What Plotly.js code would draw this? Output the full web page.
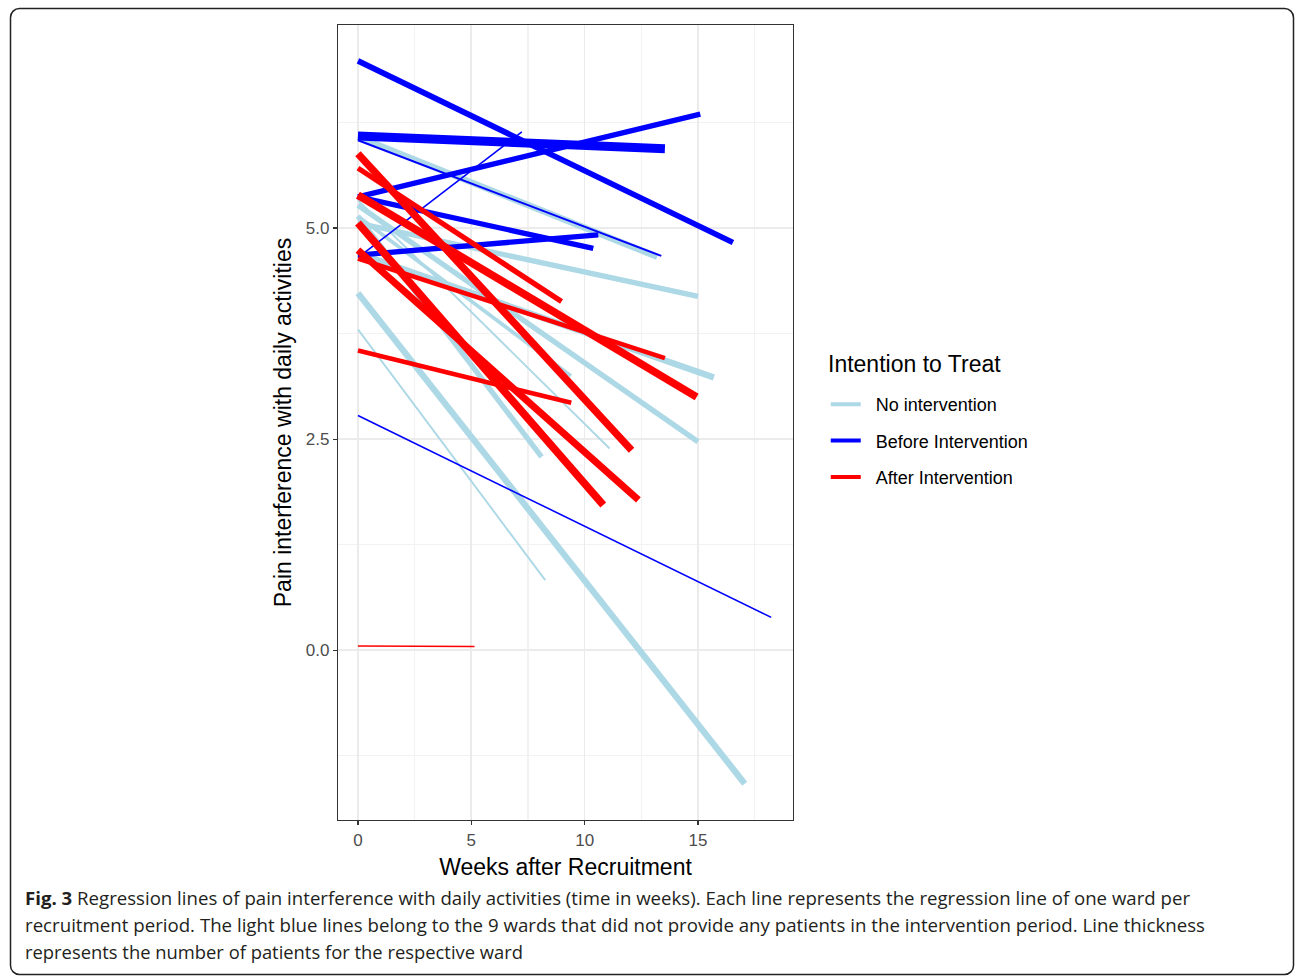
<!DOCTYPE html>
<html>
<head>
<meta charset="utf-8">
<script src="https://cdn.plot.ly/plotly-3.0.1.min.js"></script>
<style>
html,body{margin:0;padding:0;background:#fff;}
#wrap{position:relative;width:1296px;height:977px;}
#chart{position:absolute;left:0;top:0;width:1296px;height:977px;}
#overlay{position:absolute;left:0;top:0;pointer-events:none;}
</style>
</head>
<body>
<div id="wrap">
<div id="chart"></div>
<svg id="overlay" width="1296" height="977" xmlns="http://www.w3.org/2000/svg">
  <rect x="10.5" y="8.5" width="1283" height="966" rx="9" ry="9" fill="none" stroke="#222" stroke-width="1.5"/>
  <text x="25" y="905" font-family="Open Sans, sans-serif" font-size="18" fill="#231f20" textLength="1165" lengthAdjust="spacingAndGlyphs"><tspan font-weight="bold">Fig. 3</tspan> Regression lines of pain interference with daily activities (time in weeks). Each line represents the regression line of one ward per</text>
  <text x="25" y="932" font-family="Open Sans, sans-serif" font-size="18" fill="#231f20" textLength="1180" lengthAdjust="spacingAndGlyphs">recruitment period. The light blue lines belong to the 9 wards that did not provide any patients in the intervention period. Line thickness</text>
  <text x="25" y="959" font-family="Open Sans, sans-serif" font-size="18" fill="#231f20" textLength="498" lengthAdjust="spacingAndGlyphs">represents the number of patients for the respective ward</text>
</svg>
</div>
<script>
// ---- Data: one regression line per ward and recruitment period ----
// group of each line
const group = [
  "No intervention","No intervention","No intervention","No intervention","No intervention",
  "No intervention","No intervention","No intervention","No intervention",
  "Before Intervention","Before Intervention","Before Intervention","Before Intervention",
  "Before Intervention","Before Intervention","Before Intervention","Before Intervention",
  "After Intervention","After Intervention","After Intervention","After Intervention",
  "After Intervention","After Intervention","After Intervention","After Intervention"
];
// start and end week of each regression line
const weekStart = [0,0,0,0,0,0,0,0,0, 0,0,0,0,0,0,0,0, 0,0,0,0,0,0,0,0];
const weekEnd = [13.2,15.0,15.7,15.0,8.1,11.1,17.06,8.26,9.4,
                 16.54,13.54,15.1,7.23,13.38,10.38,10.6,18.23,
                 12.07,8.98,14.94,10.82,12.37,13.54,9.41,5.14];
// fitted pain interference at start and end
const painStart = [6.08,5.06,4.70,5.27,5.14,5.33,4.23,3.80,5.14,
                   6.98,6.09,5.37,4.65,6.04,5.37,4.68,2.78,
                   5.88,5.71,5.39,5.06,4.74,4.64,3.55,0.05];
const painEnd = [4.66,4.19,3.23,2.47,2.29,2.39,-1.58,0.83,3.25,
                 4.83,5.94,6.35,6.14,4.67,4.76,4.92,0.39,
                 2.37,4.13,3.00,1.72,1.78,3.46,2.93,0.045];
// number of patients per ward (drives line thickness)
const patients = [16,13,16,13,13,3,16,3,8,
                  14,24,13,2,3,13,13,2,
                  19,13,20,20,18,11,11,2];

const groups = ["No intervention","Before Intervention","After Intervention"];
const legendTitle = "Intention to Treat";
const colors = {"No intervention":"#ADD8E6","Before Intervention":"#0000FF","After Intervention":"#FF0000"};

function widthFor(n){ return 0.9 + n*0.34; }

const traces = [];
groups.forEach(g => {
  for (let i = 0; i < group.length; i++) {
    if (group[i] !== g) continue;
    traces.push({
      type: "scatter", mode: "lines",
      x: [weekStart[i], weekEnd[i]],
      y: [painStart[i], painEnd[i]],
      line: {color: colors[g], width: widthFor(patients[i])},
      legendgroup: g, showlegend: false, hoverinfo: "skip"
    });
  }
});
groups.forEach(g => {
  traces.push({
    type: "scatter", mode: "lines", x: [null], y: [null], name: "\u00a0\u00a0" + g,
    line: {color: colors[g], width: 4},
    legendgroup: g, showlegend: true
  });
});

const axisFont = {family: "Liberation Sans, Arial, sans-serif", size: 17, color: "#4d4d4d"};
const layout = {
  width: 1296, height: 977,
  margin: {l: 338, r: 503, t: 25, b: 157},
  paper_bgcolor: "rgba(0,0,0,0)", plot_bgcolor: "#ffffff",
  showlegend: true,
  font: {family: "Liberation Sans, Arial, sans-serif", color: "#000"},
  xaxis: {
    range: [-0.88, 19.19], tickvals: [0,5,10,15], ticktext: ["0","5","10","15"],
    ticks: "outside", ticklen: 4, tickcolor: "#333", tickwidth: 1.2,
    tickfont: axisFont,
    showgrid: true, gridcolor: "#ebebeb", gridwidth: 1.6,
    minor: {tickvals: [2.5,7.5,12.5,17.5], showgrid: true, gridcolor: "#f2f2f2", gridwidth: 1.1, ticks: ""},
    zeroline: false, showline: true, mirror: true, linecolor: "#333", linewidth: 1.2,
    title: {text: "Weeks after Recruitment", font: {size: 23, color: "#000"}, standoff: 10},
    automargin: false
  },
  yaxis: {
    range: [-2.01, 7.405], tickvals: [0,2.5,5], ticktext: ["0.0","2.5","5.0"],
    ticks: "outside", ticklen: 4, tickcolor: "#333", tickwidth: 1.2,
    tickfont: axisFont,
    showgrid: true, gridcolor: "#ebebeb", gridwidth: 1.6,
    minor: {tickvals: [-1.25,1.25,3.75,6.25], showgrid: true, gridcolor: "#f2f2f2", gridwidth: 1.1, ticks: ""},
    zeroline: false, showline: true, mirror: true, linecolor: "#333", linewidth: 1.2,
    title: {text: "Pain interference with daily activities", font: {size: 23, color: "#000"}, standoff: 7},
    automargin: false
  },
  legend: {
    x: 1.072, xanchor: "left", y: 0.5459, yanchor: "top",
    font: {size: 18, color: "#000"},
    tracegroupgap: 10, bgcolor: "rgba(0,0,0,0)", traceorder: "grouped"
  },
  annotations: [{
    text: legendTitle, xref: "paper", yref: "paper",
    x: (826 - 338) / 455, y: 1 - (364 - 25) / 795, xanchor: "left", yanchor: "middle",
    showarrow: false, font: {size: 23, color: "#000"}
  }]
};

Plotly.newPlot("chart", traces, layout, {displayModeBar: false, staticPlot: true});
</script>
</body>
</html>
